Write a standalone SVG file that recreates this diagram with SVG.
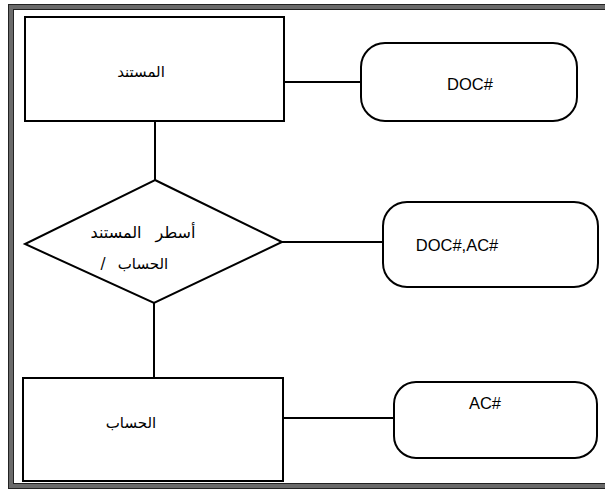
<svg xmlns="http://www.w3.org/2000/svg" width="605" height="494" viewBox="0 0 605 494">
  <style>
    .shape { fill: #ffffff; stroke: #000000; stroke-width: 2; }
    .link { fill: none; stroke: #000000; stroke-width: 2; }
    .ar { font-family: "DejaVu Sans", "Noto Sans", sans-serif; font-size: 15px; fill: #000000; text-anchor: middle; }
    .en { font-family: "Liberation Sans", Arial, sans-serif; font-size: 16.5px; fill: #000000; text-anchor: middle; }
  </style>

  <rect width="605" height="494" fill="#ffffff"/>

  <!-- outer frame -->
  <g id="frame">
    <rect x="11" y="7" width="600" height="479" fill="none" stroke="#6a6a6a" stroke-width="5"/>
    <rect x="8.5" y="4.5" width="605" height="484" fill="none" stroke="#222222" stroke-width="1"/>
    <rect x="13.5" y="9.5" width="595" height="474" fill="none" stroke="#222222" stroke-width="1"/>
  </g>

  <!-- connectors -->
  <g id="connectors">
    <line class="link" x1="284" y1="82" x2="361" y2="82"/>
    <line class="link" x1="155" y1="121" x2="155" y2="180"/>
    <line class="link" x1="282" y1="242" x2="383" y2="242"/>
    <line class="link" x1="154" y1="303" x2="154" y2="378"/>
    <line class="link" x1="283" y1="418" x2="394" y2="418"/>
  </g>

  <g id="document">
    <rect class="shape" x="25" y="17" width="259" height="104"/>
    <text class="ar" x="141" y="77">المستند</text>
  </g>

  <g id="doc-key">
    <rect class="shape" x="361" y="43" width="216" height="78" rx="24" ry="24"/>
    <text class="en" x="470" y="90">DOC#</text>
  </g>

  <g id="document-lines">
    <polygon class="shape" points="155,180 282,242 154,303 25,244"/>
    <text class="ar" x="143" y="238" style="font-size:16px; word-spacing:9px">أسطر المستند</text>
    <!-- second line: slash on the left, word on the right -->
    <text class="ar" x="103" y="269">/</text>
    <text class="ar" x="143" y="269">الحساب</text>
  </g>

  <g id="line-key">
    <rect class="shape" x="383" y="202" width="215" height="85" rx="24" ry="24"/>
    <text class="en" x="457" y="251">DOC#,AC#</text>
  </g>

  <g id="account">
    <rect class="shape" x="23" y="378" width="260" height="103"/>
    <text class="ar" x="131" y="428">الحساب</text>
  </g>

  <g id="account-key">
    <rect class="shape" x="394" y="382" width="203" height="76" rx="22" ry="22"/>
    <text class="en" x="485" y="409">AC#</text>
  </g>
</svg>
